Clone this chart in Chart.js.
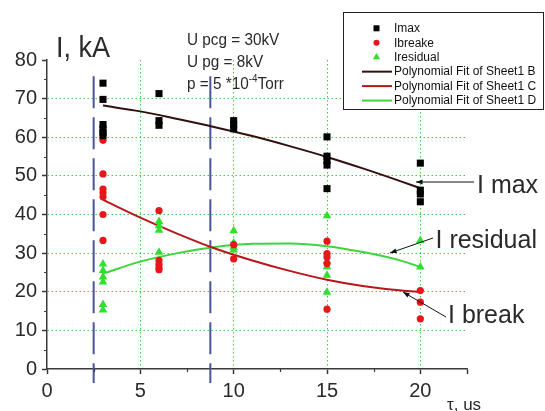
<!DOCTYPE html>
<html>
<head>
<meta charset="utf-8">
<script src="https://cdn.jsdelivr.net/npm/chart.js@4.4.1/dist/chart.umd.min.js"></script>
<style>
  html, body { margin: 0; padding: 0; background: #fff; }
  #chart { display: block; }
</style>
</head>
<body>
<canvas id="chart" width="545" height="411"></canvas>
<script>
// delays tau, us
const tau = [3, 6, 10, 15, 20];

// measured currents at each delay, kA
const iMax = [
    [74.0, 69.8, 63.3, 62.2, 61.2, 60.4],
    [71.3, 64.3, 63.1],
    [64.3, 63.2, 62.2],
    [60.1, 55.1, 54.0, 52.8, 46.7],
    [53.3, 46.3, 45.3, 43.3]
];
const iBreak = [
    [59.2, 50.5, 46.6, 45.6, 44.6, 40.0, 33.3],
    [41.0, 28.1, 27.1, 26.3, 25.7],
    [32.2, 28.5],
    [33.1, 29.9, 29.0, 27.3, 15.5],
    [20.3, 17.3, 13.0]
];
const iResidual = [
    [27.2, 25.5, 23.8, 22.5, 16.7, 15.3],
    [38.2, 37.1, 35.9, 30.2],
    [35.8, 32.6, 31.5, 30.8],
    [39.7, 27.9, 26.5, 24.3, 19.9],
    [33.3, 26.4]
];

// polynomial fit curves
const fitTau = [3, 5, 7, 9, 11, 13, 15, 17, 19, 20];
const fitMax = [68.2, 66.7, 64.7, 62.6, 60.3, 57.7, 54.9, 51.8, 48.5, 46.8];
const fitBreak = [43.8, 39.2, 35.0, 31.2, 28.1, 25.4, 23.1, 21.4, 20.3, 20.0];
const fitResidual = [24.7, 27.8, 30.0, 31.6, 32.4, 32.5, 31.8, 30.2, 28.0, 26.4];

// blue dashed boundaries
const boundaryTau = [2.5, 8.75];
const boundaryRange = [75.8, -3.6];

const xTicks = [0, 5, 10, 15, 20, 22.5];
const yTicks = [0, 10, 20, 30, 40, 50, 60, 70, 80];
const xMinor = [2.5, 7.5, 12.5, 17.5];
const yMinor = [5, 15, 25, 35, 45, 55, 65, 75];

const FONT = '"Liberation Sans", Arial, sans-serif';
const TEXT = '#2a2a2a';
const AXIS = '#3a3a3a';
const GRID = '#46c846';

Chart.defaults.font.family = FONT;

const toPoints = groups => groups.flatMap((ys, i) => ys.map(y => ({ x: tau[i], y: y })));
const toCurve = ys => ys.map((y, i) => ({ x: fitTau[i], y: y }));

const scatterSet = (label, data, style, radius, color) => ({
    label: label,
    data: toPoints(data),
    pointStyle: style,
    pointRadius: radius,
    pointBackgroundColor: color,
    pointBorderWidth: 0,
    showLine: false,
    order: 0
});

const fitSet = (label, data, color) => ({
    label: label,
    data: toCurve(data),
    showLine: true,
    pointRadius: 0,
    borderColor: color,
    borderWidth: 2,
    cubicInterpolationMode: 'monotone',
    fill: false,
    order: 1
});

const boundarySets = boundaryTau.map(t => ({
    label: '',
    data: boundaryRange.map(v => ({ x: t, y: v })),
    showLine: true,
    pointRadius: 0,
    borderColor: '#4a5598',
    borderWidth: 2,
    borderDash: [32, 9],
    clip: false,
    order: 2
}));

const datasets = [
    scatterSet('Imax', iMax, 'rect', 5, '#000000'),
    scatterSet('Ibreake', iBreak, 'circle', 3.6, '#e8161b'),
    scatterSet('Iresidual', iResidual, 'triangle', 5, '#2fe02f'),
    fitSet('Polynomial Fit of Sheet1 B', fitMax, '#321010'),
    fitSet('Polynomial Fit of Sheet1 C', fitBreak, '#b8161b'),
    fitSet('Polynomial Fit of Sheet1 D', fitResidual, '#3fd43f'),
    ...boundarySets
];

// short minor ticks on both axes
const minorTicks = {
    id: 'minorTicks',
    afterDraw(chart) {
        const { ctx, scales: { x, y } } = chart;
        ctx.save();
        ctx.strokeStyle = AXIS;
        ctx.lineWidth = 1.2;
        ctx.beginPath();
        xMinor.forEach(v => {
            const px = Math.round(x.getPixelForValue(v)) + 0.5;
            ctx.moveTo(px, y.bottom);
            ctx.lineTo(px, y.bottom + 3);
        });
        yMinor.forEach(v => {
            const py = Math.round(y.getPixelForValue(v)) + 0.5;
            ctx.moveTo(x.left, py);
            ctx.lineTo(x.left - 3, py);
        });
        ctx.stroke();
        ctx.restore();
    }
};

// legend box in the top right corner
const legendBox = {
    id: 'legendBox',
    afterDraw(chart) {
        const ctx = chart.ctx;
        ctx.save();
        ctx.fillStyle = '#fff';
        ctx.fillRect(343, 12, 201, 97);
        ctx.strokeStyle = '#222';
        ctx.lineWidth = 1;
        ctx.strokeRect(343.5, 12.5, 200, 97);
        ctx.font = '12px ' + FONT;
        ctx.textBaseline = 'middle';
        chart.data.datasets.filter(d => d.label).forEach((d, i) => {
            const ly = 28.3 + i * 14.45;
            if (d.showLine) {
                ctx.strokeStyle = d.borderColor;
                ctx.lineWidth = 2;
                ctx.beginPath();
                ctx.moveTo(362, ly);
                ctx.lineTo(392, ly);
                ctx.stroke();
            } else {
                ctx.fillStyle = d.pointBackgroundColor;
                Chart.helpers.drawPoint(ctx, {
                    pointStyle: d.pointStyle,
                    radius: d.pointRadius * 0.85,
                    rotation: 0,
                    borderWidth: 0
                }, 376.5, ly);
            }
            ctx.fillStyle = '#111';
            ctx.fillText(d.label, 394, ly + 0.5);
        });
        ctx.restore();
    }
};

function arrow(ctx, x1, y1, x2, y2) {
    const a = Math.atan2(y2 - y1, x2 - x1);
    ctx.beginPath();
    ctx.moveTo(x1, y1);
    ctx.lineTo(x2, y2);
    ctx.stroke();
    ctx.beginPath();
    ctx.moveTo(x2, y2);
    ctx.lineTo(x2 - 7 * Math.cos(a - 0.35), y2 - 7 * Math.sin(a - 0.35));
    ctx.lineTo(x2 - 7 * Math.cos(a + 0.35), y2 - 7 * Math.sin(a + 0.35));
    ctx.closePath();
    ctx.fill();
}

// axis titles, run parameters and the curve labels with arrows
const annotations = {
    id: 'annotations',
    afterDraw(chart) {
        const ctx = chart.ctx;
        ctx.save();
        ctx.fillStyle = TEXT;
        ctx.textBaseline = 'alphabetic';

        ctx.font = '29px ' + FONT;
        ctx.fillText('I, kA', 56, 57, 54);

        // parameters block, slightly condensed
        ctx.save();
        ctx.translate(187, 0);
        ctx.scale(0.9, 1);
        ctx.font = '17px ' + FONT;
        ctx.fillText('U pcg = 30kV', 0, 45);
        ctx.fillText('U pg = 8kV', 0, 67);
        let w = 0;
        ctx.fillText('p = 5 *10', 0, 89);
        w += ctx.measureText('p = 5 *10').width;
        ctx.font = '11px ' + FONT;
        ctx.fillText('-4', w, 82);
        w += ctx.measureText('-4').width;
        ctx.font = '17px ' + FONT;
        ctx.fillText('Torr', w, 89);
        ctx.restore();

        ctx.font = '25px ' + FONT;
        ctx.fillText('I max', 477, 192.5);
        ctx.fillText('I residual', 435.5, 248);
        ctx.fillText('I break', 448, 322.5);

        ctx.strokeStyle = '#111';
        ctx.fillStyle = '#111';
        ctx.lineWidth = 1;
        arrow(ctx, 474, 182, 416, 182);
        arrow(ctx, 433, 238, 390, 253);
        arrow(ctx, 446, 317, 403, 292);

        ctx.fillStyle = TEXT;
        ctx.font = '17px ' + FONT;
        ctx.fillText('\u03c4, us', 447, 410);
        ctx.restore();
    }
};

const hideAt = ends => ctx => (ctx.tick && ends.includes(ctx.tick.value)) ? 'rgba(0,0,0,0)' : GRID;

new Chart(document.getElementById('chart').getContext('2d'), {
    type: 'scatter',
    data: { datasets: datasets },
    options: {
        responsive: false,
        animation: false,
        events: [],
        layout: { padding: { top: 60, right: 78, left: 0, bottom: 0 } },
        plugins: {
            legend: { display: false },
            tooltip: { enabled: false }
        },
        scales: {
            x: {
                type: 'linear',
                min: 0,
                max: 22.5,
                afterBuildTicks: s => { s.ticks = xTicks.map(v => ({ value: v })); },
                afterFit: s => { s.height = 42; },
                ticks: {
                    callback: v => (v === 22.5 ? '' : v),
                    font: { size: 20 },
                    color: TEXT,
                    padding: 5,
                    maxRotation: 0,
                    autoSkip: false
                },
                grid: {
                    color: hideAt([0, 22.5]),
                    lineWidth: 1,
                    tickColor: AXIS,
                    tickLength: 5,
                    tickWidth: 1.5
                },
                border: { color: AXIS, width: 1.5, dash: [1.5, 2.5] }
            },
            y: {
                type: 'linear',
                min: 0,
                max: 80,
                afterBuildTicks: s => { s.ticks = yTicks.map(v => ({ value: v })); },
                afterFit: s => { s.width = 47; },
                ticks: {
                    font: { size: 20 },
                    color: TEXT,
                    padding: 5,
                    autoSkip: false
                },
                grid: {
                    color: hideAt([0, 80]),
                    lineWidth: 1,
                    tickColor: AXIS,
                    tickLength: 5,
                    tickWidth: 1.5
                },
                border: { color: AXIS, width: 1.5, dash: [1.5, 2.5] }
            }
        }
    },
    plugins: [minorTicks, legendBox, annotations]
});
</script>
</body>
</html>
